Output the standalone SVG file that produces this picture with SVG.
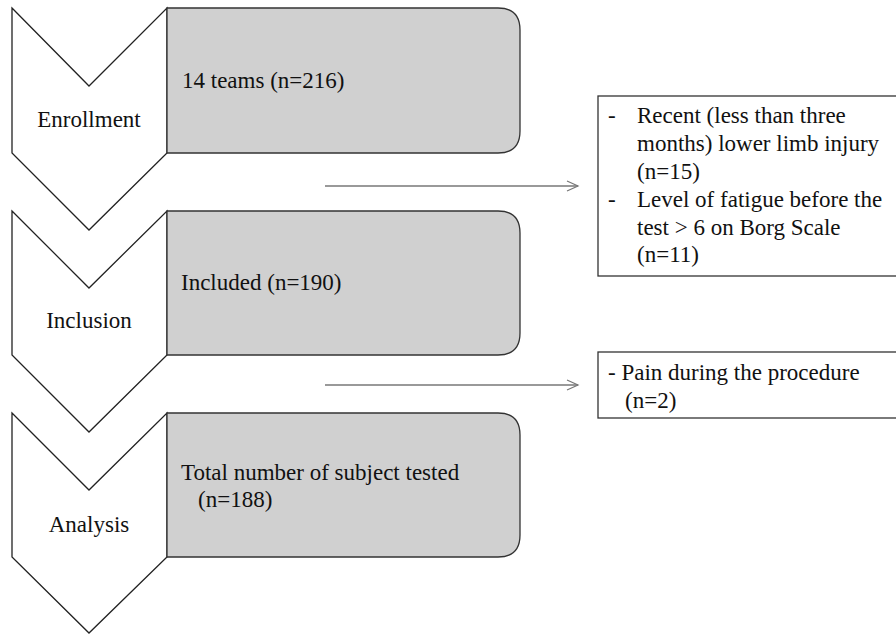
<svg xmlns="http://www.w3.org/2000/svg" width="896" height="634" viewBox="0 0 896 634">
<defs>
<style>
.chev{fill:#fff;stroke:#222;stroke-width:1.3;stroke-linejoin:miter}
.rbox{fill:#d0d0d0;stroke:#333;stroke-width:1.3}
.ex{fill:#fff;stroke:#333;stroke-width:1.3}
text{font-family:'Liberation Serif','Times New Roman',serif;font-size:23px;fill:#111}
.conn{stroke:#777;stroke-width:1.3;fill:none}
</style>
<marker id="arr" markerWidth="14" markerHeight="12" refX="12" refY="6" orient="auto" markerUnits="userSpaceOnUse">
<path d="M1,1 L12,6 L1,11" fill="none" stroke="#777" stroke-width="1.2"/>
</marker>
</defs>
<rect width="896" height="634" fill="#fff"/>
<g id="enrollment">
<path class="chev" d="M12,8 L89,86 L167,8 L167,153 L89,230 L12,153 Z"/>
<text x="89" y="127" text-anchor="middle">Enrollment</text>
</g>
<g id="teams">
<path class="rbox" d="M167,8 H498 Q520,8 520,30 V131 Q520,153 498,153 H167 Z"/>
<text x="182" y="88">14 teams (n=216)</text>
</g>
<g id="inclusion">
<path class="chev" d="M12,211 L89,288 L167,211 L167,355 L89,432 L12,355 Z"/>
<text x="89" y="328" text-anchor="middle">Inclusion</text>
</g>
<g id="included">
<path class="rbox" d="M167,211 H498 Q520,211 520,233 V333 Q520,355 498,355 H167 Z"/>
<text x="181" y="290">Included (n=190)</text>
</g>
<g id="analysis">
<path class="chev" d="M12,413 L89,490 L167,413 L167,557 L89,633 L12,557 Z"/>
<text x="89" y="532" text-anchor="middle">Analysis</text>
</g>
<g id="tested">
<path class="rbox" d="M167,413 H498 Q520,413 520,435 V535 Q520,557 498,557 H167 Z"/>
<text x="181" y="480">Total number of subject tested</text>
<text x="198" y="507">(n=188)</text>
</g>
<g id="excluded1">
<rect class="ex" x="598" y="96" width="300" height="180"/>
<text x="608" y="123">-</text>
<text x="637" y="123">Recent (less than three</text>
<text x="637" y="151">months) lower limb injury</text>
<text x="637" y="179">(n=15)</text>
<text x="608" y="207">-</text>
<text x="637" y="207">Level of fatigue before the</text>
<text x="637" y="235">test &gt; 6 on Borg Scale</text>
<text x="637" y="262">(n=11)</text>
</g>
<g id="excluded2">
<rect class="ex" x="598" y="352" width="300" height="66"/>
<text x="608" y="380">- Pain during the procedure</text>
<text x="625" y="408">(n=2)</text>
</g>
<g id="connectors">
<line class="conn" x1="325" y1="186" x2="578" y2="186" marker-end="url(#arr)"/>
<line class="conn" x1="325" y1="385" x2="578" y2="385" marker-end="url(#arr)"/>
</g>
</svg>
